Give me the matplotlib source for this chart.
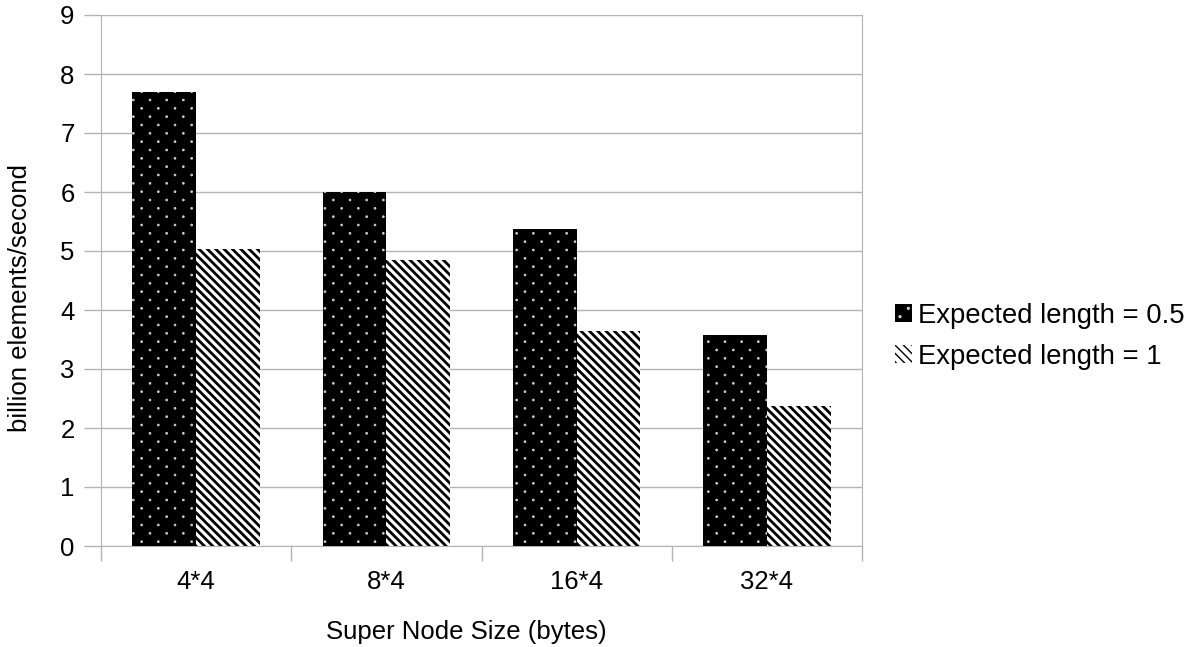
import numpy as np
import matplotlib
matplotlib.use("Agg")
import matplotlib.pyplot as plt
import matplotlib.hatch as mhatch
from matplotlib.path import Path

plt.rcParams['font.family'] = ['Liberation Sans', 'DejaVu Sans']

sizes = ['4*4', '8*4', '16*4', '32*4']
len_half = [7.70, 6.00, 5.38, 3.58]
len_one = [5.03, 4.85, 3.65, 2.38]
series_names = ['Expected length = 0.5', 'Expected length = 1']


# fine staggered dot texture: dense rows, every other row shifted half a step
class StaggeredDots(mhatch.HatchPatternBase):
    def __init__(self, hatch, density):
        n = hatch.count('.') * density
        circle = Path.unit_circle()
        self.shape_vertices = circle.vertices
        self.shape_codes = circle.codes
        self.points = []
        if n:
            for r in range(2 * n + 1):
                if r % 2 == 0:
                    cols = np.linspace(0, 1, n + 1)
                else:
                    cols = np.linspace(0.5 / n, 1 - 0.5 / n, n)
                for c in cols:
                    self.points.append((c, r / (2 * n)))
        self.num_vertices = len(self.points) * len(self.shape_vertices)

    def set_vertices_and_codes(self, vertices, codes):
        k = len(self.shape_vertices)
        for i, (cx, cy) in enumerate(self.points):
            vertices[i * k:(i + 1) * k] = self.shape_vertices * 0.009 + (cx, cy)
            codes[i * k:(i + 1) * k] = self.shape_codes


mhatch._hatch_types = [StaggeredDots if t is mhatch.SmallFilledCircles else t
                       for t in mhatch._hatch_types]

fig = plt.figure(figsize=(11.92, 6.47), dpi=100)
ax = fig.add_axes([101 / 1192, 101 / 647, 761 / 1192, 531 / 647])

x = np.arange(len(sizes))
w = 0.335

with plt.rc_context({'hatch.linewidth': 0.6}):
    b1 = ax.bar(x - w / 2, len_half, w, color='black', edgecolor='#d0d0d0',
                hatch='.', linewidth=0, zorder=3, label=series_names[0])
with plt.rc_context({'hatch.linewidth': 2.0}):
    b2 = ax.bar(x + w / 2, len_one, w, color='white', edgecolor='black',
                hatch='\\\\\\\\', linewidth=0, zorder=3, label=series_names[1])

ax.set_xlim(-0.5, len(sizes) - 0.5)
ax.set_ylim(0, 9)
ax.set_yticks(range(0, 10))
ax.set_xticks(x)
ax.set_xticklabels(sizes)
# separator ticks between the groups
ax.set_xticks(np.arange(-0.5, len(sizes), 1), minor=True)
ax.tick_params(axis='x', which='major', length=0, pad=17, labelsize=18.5)
ax.tick_params(axis='x', which='minor', length=11, color='#b3b3b3', width=1)
ax.tick_params(axis='y', length=12, color='#b3b3b3', width=1, labelsize=18.5, pad=7)

ax.grid(axis='y', color='#b3b3b3', linewidth=1, zorder=0)
for side in ['top', 'right', 'bottom', 'left']:
    ax.spines[side].set_color('#b3b3b3')
ax.spines['top'].set_visible(False)

ax.set_ylabel('billion elements/second', fontsize=18.5, labelpad=20)
ax.set_xlabel('Super Node Size (bytes)', fontsize=18.5, labelpad=19)
ax.yaxis.label.set_y(0.467)
ax.xaxis.label.set_x(0.48)

ax.legend(loc='center left', bbox_to_anchor=(1.043, 0.395), frameon=False,
          fontsize=19.8, handlelength=0.62, handleheight=0.62, handletextpad=0.22,
          labelspacing=0.55, borderaxespad=0, borderpad=0)

fig.savefig('out.png', dpi=100)
